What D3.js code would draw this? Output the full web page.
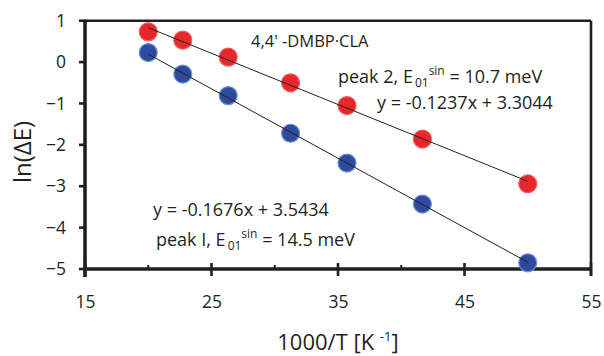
<!DOCTYPE html>
<html>
<head>
<meta charset="utf-8">
<script src="https://cdn.jsdelivr.net/npm/d3@7"></script>
<style>
  body { margin: 0; background: #fff; }
  text { font-family: "Open Sans", "Noto Sans", sans-serif; fill: #231f20; }
</style>
</head>
<body>
<div id="chart"></div>
<script>
// data
const invT = [20, 22.73, 26.32, 31.25, 35.71, 41.67, 50];
const peak2 = [0.73, 0.53, 0.12, -0.50, -1.05, -1.86, -2.94];
const peak1 = [0.23, -0.29, -0.81, -1.72, -2.44, -3.43, -4.85];
const fitSlopes = [-0.1237, -0.1676];      // peak 2, peak 1
const fitIntercepts = [3.3044, 3.5434];
const xTicks = [15, 25, 35, 45, 55];
const xMinor = [20, 30, 40, 50];
const yTicks = [-5, -4, -3, -2, -1, 0, 1];

var width = 604, height = 356;
var ink = "#231f20";

var svg = d3.select("#chart").append("svg")
    .attr("width", width)
    .attr("height", height);

var x = d3.scaleLinear().domain([15, 55]).range([85, 591]);
var y = d3.scaleLinear().domain([-5, 1]).range([269, 20.7]);

// frame: top and right
svg.append("line").attr("x1", x(15)).attr("x2", x(55)).attr("y1", y(1)).attr("y2", y(1))
    .attr("stroke", ink).attr("stroke-width", 2.6);
svg.append("line").attr("x1", x(55)).attr("x2", x(55)).attr("y1", y(1)).attr("y2", y(-5) + 7)
    .attr("stroke", ink).attr("stroke-width", 2.6);

// x axis
var xAxis = svg.append("g").attr("transform", "translate(0," + y(-5) + ")")
    .call(d3.axisBottom(x).tickValues(xTicks).tickSize(0).tickPadding(27).tickFormat(d3.format("d")));
xAxis.select(".domain").remove();
xAxis.selectAll("text").attr("font-size", 17.5).attr("fill", ink);
xAxis.selectAll(".tk").data(xTicks).enter().append("line")
    .attr("x1", d => x(d)).attr("x2", d => x(d)).attr("y1", -6).attr("y2", 7)
    .attr("stroke", ink).attr("stroke-width", 2.6);
xAxis.selectAll(".mn").data(xMinor).enter().append("line")
    .attr("x1", d => x(d)).attr("x2", d => x(d)).attr("y1", -4).attr("y2", 0)
    .attr("stroke", ink).attr("stroke-width", 2);
xAxis.append("line").attr("x1", x(15)).attr("x2", x(55)).attr("y1", 0).attr("y2", 0)
    .attr("stroke", ink).attr("stroke-width", 3.6);

// y axis
var yAxis = svg.append("g").attr("transform", "translate(" + x(15) + ",0)")
    .call(d3.axisLeft(y).tickValues(yTicks).tickSize(0).tickPadding(19).tickFormat(d3.format("d")));
yAxis.select(".domain").remove();
yAxis.selectAll("text").attr("font-size", 17.5).attr("fill", ink);
yAxis.selectAll(".tk").data(yTicks).enter().append("line")
    .attr("x1", -6).attr("x2", 0).attr("y1", d => y(d)).attr("y2", d => y(d))
    .attr("stroke", ink).attr("stroke-width", 2.6);
yAxis.append("line").attr("x1", 0).attr("x2", 0).attr("y1", y(1) - 1).attr("y2", y(-5) + 8)
    .attr("stroke", ink).attr("stroke-width", 3.6);

// axis titles
var xt = svg.append("text").attr("x", 338).attr("y", 350).attr("text-anchor", "middle")
    .attr("font-size", 22);
xt.append("tspan").text("1000/T [K ");
xt.append("tspan").attr("font-size", 13).attr("dy", -9).text("-1");
xt.append("tspan").attr("dy", 9).text("]");

svg.append("text").attr("transform", "translate(31,152) rotate(-90)")
    .attr("text-anchor", "middle").attr("font-size", 24)
    .text("ln(ΔE)");

// markers
var series = [
    { vals: peak2, fill: "#e8262b", edge: "#f05a5a" },
    { vals: peak1, fill: "#2d4a9e", edge: "#6d93d6" }
];
series.forEach(function (s) {
    svg.append("g").selectAll("circle")
        .data(invT.map((t, i) => [t, s.vals[i]]))
        .enter().append("circle")
        .attr("cx", d => x(d[0]))
        .attr("cy", d => y(d[1]))
        .attr("r", 9)
        .attr("fill", s.fill)
        .attr("stroke", s.edge)
        .attr("stroke-width", 1.2);
});

// fit lines
fitSlopes.forEach(function (m, i) {
    var b = fitIntercepts[i];
    var x0 = d3.min(invT), x1 = d3.max(invT);
    svg.append("line")
        .attr("x1", x(x0)).attr("y1", y(m * x0 + b))
        .attr("x2", x(x1)).attr("y2", y(m * x1 + b))
        .attr("stroke", ink).attr("stroke-width", 1);
});

// annotations
svg.append("text").attr("x", 251).attr("y", 47).attr("font-size", 16.5)
    .text("4,4' -DMBP\u00b7CLA");

function peakLabel(xp, yp, name, val) {
    var t = svg.append("text").attr("x", xp).attr("y", yp).attr("font-size", 18);
    t.append("tspan").text(name + ", E");
    t.append("tspan").attr("font-size", 12).attr("dx", 2).attr("dy", 4).text("01");
    t.append("tspan").attr("font-size", 12).attr("dy", -12).text("sin");
    t.append("tspan").attr("dy", 8).text(" = " + val + " meV");
}
peakLabel(338, 83, "peak 2", "10.7");
svg.append("text").attr("x", 377).attr("y", 109).attr("font-size", 18)
    .text("y = " + fitSlopes[0] + "x + " + fitIntercepts[0]);

svg.append("text").attr("x", 153).attr("y", 216).attr("font-size", 18)
    .text("y = " + fitSlopes[1] + "x + " + fitIntercepts[1]);
peakLabel(156, 246, "peak I", "14.5");
</script>
</body>
</html>
